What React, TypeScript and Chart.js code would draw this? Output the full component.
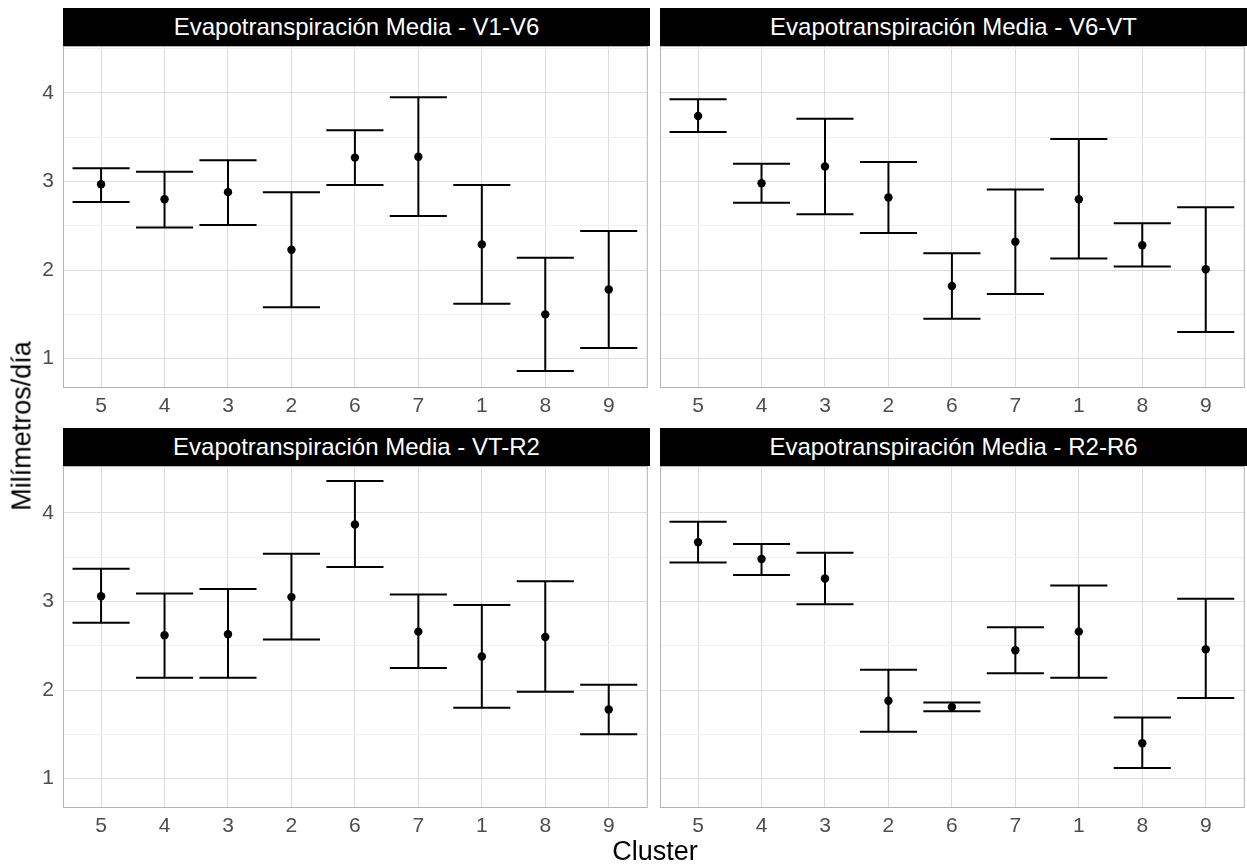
import React, { useEffect, useRef } from 'react';
import { Chart, registerables } from 'chart.js';

Chart.register(...registerables);

// ---------------- data ----------------
const CLUSTERS = ['5', '4', '3', '2', '6', '7', '1', '8', '9'];

const PANEL_TITLES = [
  'Evapotranspiración Media - V1-V6',
  'Evapotranspiración Media - V6-VT',
  'Evapotranspiración Media - VT-R2',
  'Evapotranspiración Media - R2-R6',
];

const MEAN_V1V6 = [2.97, 2.8, 2.88, 2.23, 3.27, 3.28, 2.29, 1.5, 1.78];
const LOWER_V1V6 = [2.77, 2.48, 2.51, 1.58, 2.96, 2.61, 1.62, 0.86, 1.12];
const UPPER_V1V6 = [3.15, 3.11, 3.24, 2.88, 3.58, 3.95, 2.96, 2.14, 2.44];

const MEAN_V6VT = [3.74, 2.98, 3.17, 2.82, 1.82, 2.32, 2.8, 2.28, 2.01];
const LOWER_V6VT = [3.56, 2.76, 2.63, 2.42, 1.45, 1.73, 2.13, 2.04, 1.3];
const UPPER_V6VT = [3.93, 3.2, 3.71, 3.22, 2.19, 2.91, 3.48, 2.53, 2.71];

const MEAN_VTR2 = [3.06, 2.62, 2.63, 3.05, 3.87, 2.66, 2.38, 2.6, 1.78];
const LOWER_VTR2 = [2.76, 2.14, 2.14, 2.57, 3.39, 2.25, 1.8, 1.98, 1.5];
const UPPER_VTR2 = [3.37, 3.09, 3.14, 3.54, 4.36, 3.08, 2.96, 3.23, 2.06];

const MEAN_R2R6 = [3.67, 3.48, 3.26, 1.88, 1.81, 2.45, 2.66, 1.4, 2.46];
const LOWER_R2R6 = [3.44, 3.3, 2.97, 1.53, 1.76, 2.19, 2.14, 1.12, 1.91];
const UPPER_R2R6 = [3.9, 3.65, 3.55, 2.23, 1.86, 2.71, 3.18, 1.69, 3.03];

const Y_TICKS = [1, 1.5, 2, 2.5, 3, 3.5, 4, 4.5];
const Y_MIN = 0.68;
const Y_MAX = 4.53;
const X_MIN = -0.6;
const X_MAX = 8.6;
const CAP_HALF = 0.45;

const Y_TITLE = 'Milímetros/día';
const X_TITLE = 'Cluster';

// ---------------- layout ----------------
const FONT = "'Liberation Sans', Arial, Helvetica, sans-serif";
const PANEL_W = 586;
const PANEL_H = 341;
const COL_X = [63, 660];
const ROW_Y = [46, 466];
const STRIP_H = 38;
const Y_AXIS_W = 63;
const X_AXIS_H = 40;
const PAD_TOP = 30;
const PAD_SIDE = 6;

const borderPlugin = {
  id: 'panelBorder',
  afterDraw(chart: any) {
    const { ctx, chartArea } = chart;
    ctx.save();
    ctx.strokeStyle = '#B3B3B3';
    ctx.lineWidth = 1;
    ctx.strokeRect(
      chartArea.left + 0.5,
      chartArea.top + 0.5,
      chartArea.right - chartArea.left,
      chartArea.bottom - chartArea.top
    );
    ctx.restore();
  },
};

type PanelProps = {
  mean: number[];
  lower: number[];
  upper: number[];
  col: number;
  row: number;
};

function Panel({ mean, lower, upper, col, row }: PanelProps) {
  const ref = useRef<HTMLCanvasElement | null>(null);
  const showY = col === 0;
  const padLeft = showY ? 0 : PAD_SIDE;
  const axisW = showY ? Y_AXIS_W : 0;
  const canvasLeft = COL_X[col] - axisW - padLeft;
  const canvasTop = ROW_Y[row] - PAD_TOP;
  const canvasW = padLeft + axisW + PANEL_W + 2;
  const canvasH = PAD_TOP + PANEL_H + X_AXIS_H;

  useEffect(() => {
    const points = CLUSTERS.map((_, i) => ({ x: i, y: mean[i] }));
    const bars: { x: number; y: number | null }[] = [];
    CLUSTERS.forEach((_, i) => {
      bars.push({ x: i - CAP_HALF, y: upper[i] });
      bars.push({ x: i + CAP_HALF, y: upper[i] });
      bars.push({ x: i, y: null });
      bars.push({ x: i, y: upper[i] });
      bars.push({ x: i, y: lower[i] });
      bars.push({ x: i, y: null });
      bars.push({ x: i - CAP_HALF, y: lower[i] });
      bars.push({ x: i + CAP_HALF, y: lower[i] });
      bars.push({ x: i, y: null });
    });

    const chart = new Chart(ref.current as HTMLCanvasElement, {
      type: 'scatter',
      data: {
        datasets: [
          {
            data: points,
            showLine: false,
            pointRadius: 4.2,
            pointBorderWidth: 0,
            pointBackgroundColor: '#000000',
            pointBorderColor: '#000000',
          },
          {
            data: bars as any,
            showLine: true,
            spanGaps: false,
            borderColor: '#000000',
            borderWidth: 2,
            pointRadius: 0,
            tension: 0,
          },
        ],
      },
      options: {
        responsive: false,
        animation: false,
        events: [],
        layout: { padding: { top: PAD_TOP, left: padLeft, right: 2, bottom: 0 } },
        plugins: { legend: { display: false }, tooltip: { enabled: false } },
        scales: {
          x: {
            type: 'linear',
            min: X_MIN,
            max: X_MAX,
            afterBuildTicks: (scale: any) => {
              scale.ticks = CLUSTERS.map((_, i) => ({ value: i }));
            },
            afterFit: (scale: any) => {
              scale.height = X_AXIS_H;
            },
            ticks: {
              autoSkip: false,
              maxRotation: 0,
              padding: 7,
              color: '#4D4D4D',
              font: { family: FONT, size: 21 },
              callback: (_v: any, index: number) => CLUSTERS[index],
            },
            grid: { color: '#DEDEDE', lineWidth: 1, drawTicks: false },
            border: { display: false },
          },
          y: {
            type: 'linear',
            min: Y_MIN,
            max: Y_MAX,
            afterBuildTicks: (scale: any) => {
              scale.ticks = Y_TICKS.map((v) => ({ value: v }));
            },
            afterFit: (scale: any) => {
              scale.width = axisW;
            },
            ticks: {
              display: showY,
              padding: 9,
              color: '#4D4D4D',
              font: { family: FONT, size: 21 },
              callback: (v: any) => (Number.isInteger(v) ? String(v) : ''),
            },
            grid: {
              color: (ctx: any) =>
                ctx.tick && Number.isInteger(ctx.tick.value) ? '#DEDEDE' : '#F0F0F0',
              lineWidth: 1,
              drawTicks: false,
            },
            border: { display: false },
          },
        },
      } as any,
      plugins: [borderPlugin],
    });
    return () => chart.destroy();
  }, []);

  return (
    <canvas
      ref={ref}
      width={canvasW}
      height={canvasH}
      style={{
        position: 'absolute',
        left: canvasLeft,
        top: canvasTop,
        width: canvasW,
        height: canvasH,
      }}
    />
  );
}

function Strip({ title, col, row }: { title: string; col: number; row: number }) {
  return (
    <div
      style={{
        position: 'absolute',
        left: COL_X[col],
        top: ROW_Y[row] - STRIP_H,
        width: PANEL_W + 1,
        height: STRIP_H,
        background: '#000000',
        color: '#FFFFFF',
        fontFamily: FONT,
        fontSize: 24,
        lineHeight: 1,
        display: 'flex',
        alignItems: 'center',
        justifyContent: 'center',
        whiteSpace: 'nowrap',
      }}
    >
      {title}
    </div>
  );
}

export default function App() {
  const panels = [
    { mean: MEAN_V1V6, lower: LOWER_V1V6, upper: UPPER_V1V6, col: 0, row: 0 },
    { mean: MEAN_V6VT, lower: LOWER_V6VT, upper: UPPER_V6VT, col: 1, row: 0 },
    { mean: MEAN_VTR2, lower: LOWER_VTR2, upper: UPPER_VTR2, col: 0, row: 1 },
    { mean: MEAN_R2R6, lower: LOWER_R2R6, upper: UPPER_R2R6, col: 1, row: 1 },
  ];
  return (
    <div
      style={{
        position: 'absolute',
        left: 0,
        top: 0,
        width: 1247,
        height: 867,
        overflow: 'hidden',
        background: '#FFFFFF',
      }}
    >
      {panels.map((p, i) => (
        <Panel key={'p' + i} {...p} />
      ))}
      {panels.map((p, i) => (
        <Strip key={'s' + i} title={PANEL_TITLES[i]} col={p.col} row={p.row} />
      ))}
      <div
        style={{
          position: 'absolute',
          left: 21.5,
          top: 426,
          transform: 'translate(-50%, -50%) rotate(-90deg)',
          fontFamily: FONT,
          fontSize: 27,
          lineHeight: 1,
          color: '#000000',
          whiteSpace: 'nowrap',
        }}
      >
        {Y_TITLE}
      </div>
      <div
        style={{
          position: 'absolute',
          left: 655,
          top: 851,
          transform: 'translate(-50%, -50%)',
          fontFamily: FONT,
          fontSize: 27,
          lineHeight: 1,
          color: '#000000',
          whiteSpace: 'nowrap',
        }}
      >
        {X_TITLE}
      </div>
    </div>
  );
}
